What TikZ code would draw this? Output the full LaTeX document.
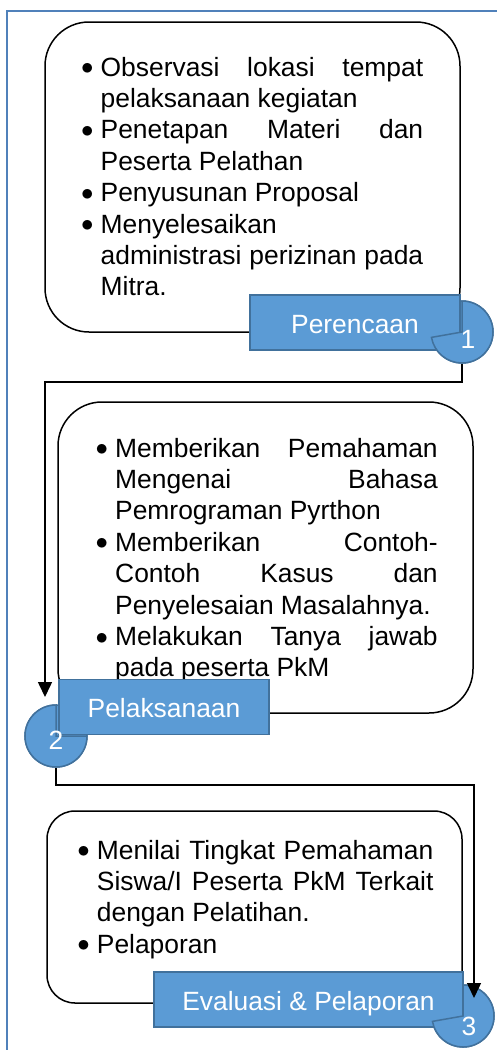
\documentclass[tikz,border=0pt]{standalone}
\usepackage{fontspec}
\setmainfont{Liberation Sans}
\usetikzlibrary{arrows.meta}

\definecolor{stepblue}{HTML}{5B9BD5}
\definecolor{stepline}{HTML}{41719C}
\definecolor{framecol}{HTML}{5081BA}

\tolerance=10000
\hyphenpenalty=10000

\newcommand{\bitem}[1]{\par\hangindent=19.5pt\hangafter=1\noindent\makebox[19.5pt][l]{\raisebox{1.5pt}{$\bullet$}}#1\par}

\tikzset{
    roundbox/.style={draw, line width=1.5pt, rounded corners=44pt, minimum width=415pt, inner sep=0pt},
    listtext/.style={anchor=north west, inner sep=0pt, align=justify, font=\fontsize{26.4}{31.4}\selectfont},
    stepbox/.style={draw=stepline, fill=stepblue, line width=1.5pt, text=white, inner sep=0pt,
        minimum height=55pt, text height=21pt, text depth=0pt, font=\fontsize{26.4}{31.4}\selectfont},
    numdisc/.style={circle, draw=stepline, fill=stepblue, line width=1.5pt, minimum size=62pt, inner sep=0pt},
    numtext/.style={text=white, inner sep=0pt, font=\fontsize{26.4}{31.4}\selectfont},
    flow/.style={line width=1.5pt, -{Triangle[length=15pt,width=14pt]}},
}

\begin{document}
\begin{tikzpicture}[x=1pt, y=-1pt]
    \useasboundingbox (0,0) rectangle (497,1050);
    \draw[framecol, line width=2pt] (7,1050) -- (7,11) -- (497,11);

    \node[roundbox, minimum height=310pt] (box1) at (252.5,177) {};
    \node[roundbox, minimum height=311pt] (box2) at (265.5,557.5) {};
    \node[roundbox, minimum height=192pt, rounded corners=28pt] (box3) at (254.5,907) {};

    \node[listtext, text width=342pt] (list1) at (81,44.5) {
        \bitem{Observasi lokasi tempat \linebreak pelaksanaan kegiatan}
        \bitem{Penetapan Materi dan \linebreak Peserta Pelathan}
        \bitem{Penyusunan Proposal}
        \bitem{Menyelesaikan \linebreak administrasi perizinan pada \linebreak Mitra.}
    };
    \node[listtext, text width=342pt] (list2) at (95.5,425.5) {
        \bitem{Memberikan Pemahaman \linebreak Mengenai Bahasa \linebreak Pemrograman Pyrthon}
        \bitem{Memberikan Contoh-\linebreak Contoh Kasus dan \linebreak Penyelesaian Masalahnya.}
        \bitem{Melakukan Tanya jawab \linebreak pada peserta PkM}
    };
    \node[listtext, text width=356pt] (list3) at (77.2,827.5) {
        \bitem{Menilai Tingkat Pemahaman \linebreak Siswa/I Peserta PkM Terkait \linebreak dengan Pelatihan.}
        \bitem{Pelaporan}
    };

    \foreach \k/\x/\y in {1/462/332, 2/56/736, 3/463/1016} {
        \node[numdisc] (n\k) at (\x,\y) {};
    }

    \node[stepbox, minimum width=210pt] (lab1) at (355,322.5) {Perencaan};
    \node[stepbox, minimum width=210pt] (lab2) at (164,707) {Pelaksanaan};
    \node[stepbox, minimum width=309pt] (lab3) at (308.5,999.5) {Evaluasi \& Pelaporan};

    \foreach \k/\s/\e/\dx/\dy in {1/-90/170/6/7, 2/0/270/0/4, 3/-90/170/6/10} {
        \filldraw[draw=stepline, fill=stepblue, line width=1.5pt] (n\k.center) -- ++(\s:31)
            arc[start angle=\s, end angle=\e, radius=31] -- cycle;
        \node[numtext] (t\k) at ([shift={(\dx,\dy)}]n\k.center) {\k};
    }

    \coordinate (tip2) at (45,697);
    \coordinate (tip3) at (474,998);
    \draw[flow] (n1.south) -- ++(0,18) -| (tip2);
    \draw[flow] (n2.south) -- ++(0,17) -| (tip3);
\end{tikzpicture}
\end{document}
